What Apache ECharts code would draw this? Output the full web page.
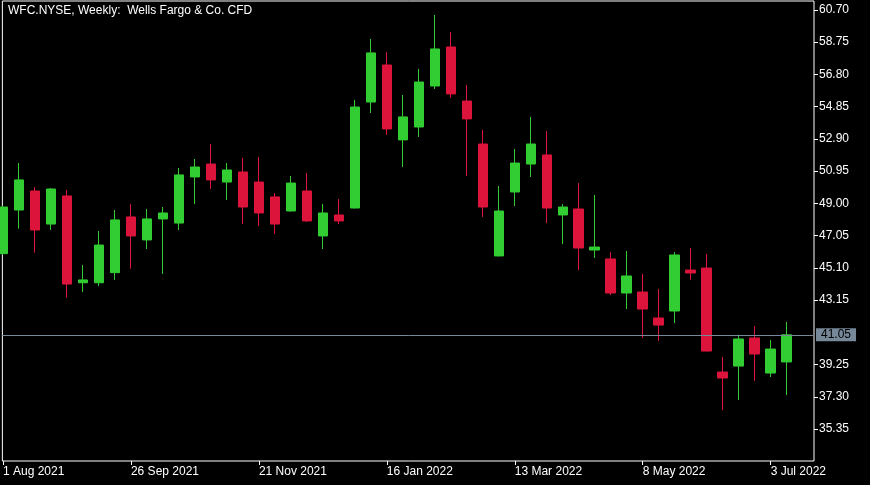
<!DOCTYPE html>
<html>
<head>
<meta charset="utf-8">
<style>
html,body{margin:0;padding:0;background:#000;}
#chart{width:870px;height:485px;}
</style>
<script src="https://cdn.jsdelivr.net/npm/echarts@6/dist/echarts.min.js"></script>
</head>
<body>
<div id="chart"></div>
<script>
// Weekly candles, week 0 = 1 Aug 2021
const openP  = [45.96,48.60,49.75,47.75,49.45,44.20,44.20,44.81,48.18,46.79,48.06,47.81,50.60,51.38,50.29,50.90,50.29,49.39,48.54,49.75,47.03,48.30,48.72,55.13,57.37,52.84,53.62,56.10,58.46,55.19,52.59,45.82,49.69,51.38,51.93,48.30,48.66,46.18,45.64,43.58,43.64,42.07,42.49,44.97,45.09,38.80,39.16,40.86,38.74,39.41];
const closeP = [48.78,50.42,47.39,49.87,44.12,44.37,46.48,48.00,47.03,48.06,48.42,50.72,51.20,50.42,51.02,48.78,48.42,47.75,50.23,47.94,48.42,47.94,54.83,58.10,53.50,54.23,56.34,58.34,55.62,54.11,48.78,48.54,51.44,52.59,48.72,48.78,46.30,46.36,43.58,44.61,42.61,41.64,45.88,44.79,40.07,38.44,40.80,39.89,40.19,41.05];
const lowP   = [45.90,47.47,46.02,47.39,43.30,43.64,44.00,44.37,45.05,46.24,44.73,47.39,48.96,49.87,49.21,47.75,47.63,47.15,48.52,47.88,46.24,47.75,48.70,54.47,53.14,51.20,53.02,55.92,55.38,50.66,48.18,45.80,48.84,50.60,47.81,46.54,44.97,45.70,43.46,42.61,40.86,40.68,41.76,44.37,40.05,36.50,37.11,38.26,38.50,37.41];
const highP  = [48.85,51.44,49.99,49.93,49.81,45.27,47.33,48.60,48.96,48.66,48.78,51.14,51.69,52.59,51.44,51.75,51.81,49.63,50.66,50.84,48.96,49.27,55.26,58.95,58.16,55.56,57.13,60.40,59.37,56.16,53.44,50.05,52.29,54.23,53.38,48.96,50.23,49.51,46.06,46.12,44.73,43.82,46.06,46.30,45.94,39.71,41.06,41.58,40.74,41.83];

const xTickWeeks  = [0, 8, 16, 24, 32, 40, 48];
const xTickLabels = ['1 Aug 2021','26 Sep 2021','21 Nov 2021','16 Jan 2022','13 Mar 2022','8 May 2022','3 Jul 2022'];
const yTicks = [60.70,58.75,56.80,54.85,52.90,50.95,49.00,47.05,45.10,43.15,39.25,37.30,35.35];
const lastPrice = 41.05;
const titleText = 'WFC.NYSE, Weekly:  Wells Fargo & Co. CFD';

const data = openP.map((o, i) => [i, o, closeP[i], lowP[i], highP[i]]);

const FONT = '"Liberation Sans", Arial, sans-serif';
const chart = echarts.init(document.getElementById('chart'), null, {renderer: 'canvas'});
chart.setOption({
  backgroundColor: '#000',
  animation: false,
  grid: {left: 2, right: 56, top: 1, bottom: 24, show: true, borderColor: '#ffffff', borderWidth: 1, backgroundColor: 'transparent'},
  xAxis: {
    type: 'value',
    position: 'bottom',
    min: -0.04, max: 50.71,
    axisLine: {show: false, onZero: false},
    splitLine: {show: false},
    axisTick: {show: true, customValues: xTickWeeks, length: 4, lineStyle: {color: '#fff'}},
    axisLabel: {
      customValues: xTickWeeks,
      color: '#fff', fontSize: 12, fontFamily: FONT, align: 'left', margin: 5,
      formatter: v => xTickLabels[xTickWeeks.indexOf(Math.round(v))] || ''
    }
  },
  yAxis: {
    type: 'value',
    position: 'right',
    min: 33.42, max: 61.24,
    scale: true,
    axisLine: {show: false, onZero: false},
    splitLine: {show: false},
    axisTick: {show: true, customValues: yTicks, length: 4, lineStyle: {color: '#fff'}},
    axisLabel: {
      customValues: yTicks,
      color: '#fff', fontSize: 12, fontFamily: FONT, margin: 5,
      formatter: v => v.toFixed(2)
    }
  },
  graphic: [{
    type: 'text', left: 8, top: 5,
    style: {text: titleText, fill: '#fff', font: '12px ' + FONT}
  }],
  series: [{
    type: 'candlestick',
    data: data,
    barWidth: 10,
    clip: true,
    itemStyle: {
      color: '#32CD32', color0: '#DC143C',
      borderColor: '#32CD32', borderColor0: '#DC143C',
      borderWidth: 1
    },
    markLine: {
      silent: true,
      symbol: ['none', 'none'],
      animation: false,
      lineStyle: {color: '#778899', width: 1, type: 'solid'},
      label: {
        show: true, position: 'end', distance: 2,
        formatter: lastPrice.toFixed(2),
        color: '#000', backgroundColor: '#778899',
        fontSize: 12, fontFamily: FONT, padding: [1, 5, 0, 5]
      },
      data: [{yAxis: lastPrice}]
    }
  }]
});
</script>
</body>
</html>
